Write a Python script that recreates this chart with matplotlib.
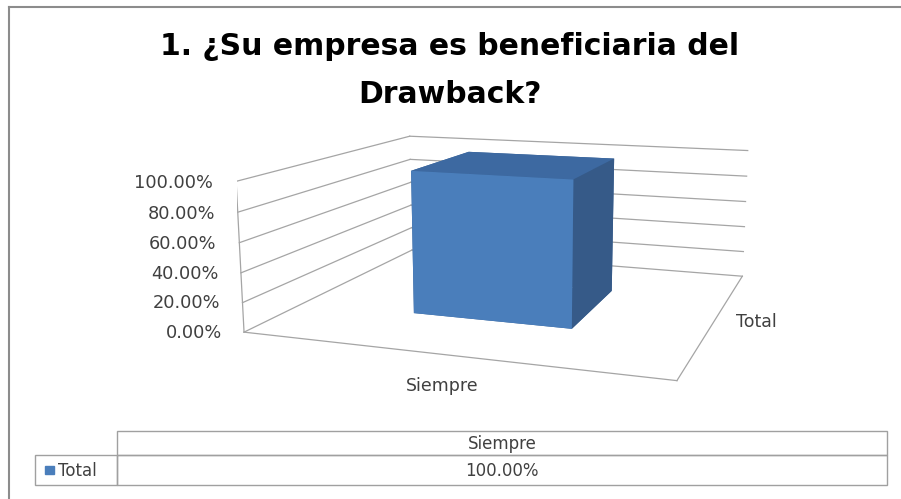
import matplotlib
matplotlib.use('Agg')
import matplotlib.pyplot as plt
from matplotlib.patches import Rectangle

categories = ['Siempre']
series = ['Total']
values = [1.00]
zticks = [0.0, 0.2, 0.4, 0.6, 0.8, 1.0]
ztick_labels = ['0.00%', '20.00%', '40.00%', '60.00%', '80.00%', '100.00%']
table_values = ['100.00%']
title_lines = ['1. ¿Su empresa es beneficiaria del', 'Drawback?']

W, H = 901, 499
fig = plt.figure(figsize=(W / 100, H / 100), dpi=100)

# 3D column chart, camera set to look like the Excel perspective
ax = fig.add_axes([0.2626, -0.0297, 0.6050, 1.0924], projection='3d', computed_zorder=False)
ax.set_xlim(0, 1)
ax.set_ylim(0, 1)
ax.set_zlim(0, 1)
ax.view_init(elev=11.73, azim=-70.60)
ax.set_proj_type('persp', focal_length=0.373)
ax.set_box_aspect((2.865, 2.622, 1))
ax.set_axis_off()
ax.patch.set_alpha(0)
for a in (ax.xaxis, ax.yaxis, ax.zaxis):
    a.label.set_visible(False)
    a.offsetText.set_visible(False)
ax.title.set_visible(False)

grid_c = '#A5A5A5'
for z in zticks:
    ax.plot([0, 0], [0, 1], [z, z], color=grid_c, lw=0.9, zorder=1)  # side wall
    ax.plot([0, 1], [1, 1], [z, z], color=grid_c, lw=0.9, zorder=1)  # back wall
ax.plot([0, 0], [0, 0], [0, 1], color=grid_c, lw=0.9, zorder=1)
ax.plot([0, 1], [0, 0], [0, 0], color=grid_c, lw=0.9, zorder=1)
ax.plot([1, 1], [0, 1], [0, 0], color=grid_c, lw=0.9, zorder=1)

bar_w = 0.4
bar_d = 0.4
# faces: bottom, top, front, back, left, right
face_cols = ['#3A6396', '#3D69A1', '#4A7EBB', '#3A6396', '#3A6396', '#365A88']
for i, v in enumerate(values):
    ax.bar3d((i + 0.5) / len(categories) - bar_w / 2, 0.5 - bar_d / 2, 0, bar_w, bar_d, v,
             color=face_cols, shade=False, edgecolor='none', zorder=3)

lab_c = '#404040'
for z, lab in zip(zticks, ztick_labels):
    ax.text(-0.06, 0, z - 0.02, lab, ha='right', va='center', fontsize=12.8, color=lab_c,
            family='DejaVu Sans')
for i, cat in enumerate(categories):
    ax.text((i + 0.55) / len(categories), -0.15, 0, cat, ha='center', va='top', fontsize=12.5,
            color=lab_c, family='DejaVu Sans')
ax.text(1.05, 0.5, 0, series[0], ha='left', va='center', fontsize=12.5, color=lab_c,
        family='DejaVu Sans')

# flat overlay in pixel coords for title, frame and data table
tax = fig.add_axes([0, 0, 1, 1], zorder=5)
tax.set_xlim(0, W)
tax.set_ylim(H, 0)
tax.set_axis_off()
tax.patch.set_alpha(0)
tax.title.set_visible(False)
tax.plot([9, W], [7, 7], color='#8C8C8C', lw=1.5)
tax.plot([9, 9], [7, H], color='#8C8C8C', lw=1.5)

for line, yb in zip(title_lines, [55, 103]):
    tax.text(450, yb, line, ha='center', va='baseline', fontsize=21.5, fontweight='bold',
             family='DejaVu Sans', color='#000000')

# data table under the chart
edge_c = '#A0A0A0'
tx0, tx1 = 117, 887
ty_head, ty_row, ty_end = 431, 455, 485
col_w = (tx1 - tx0) / len(categories)
for j, cat in enumerate(categories):
    cx = tx0 + j * col_w
    tax.add_patch(Rectangle((cx, ty_head), col_w, ty_row - ty_head, fill=False,
                            edgecolor=edge_c, lw=1))
    tax.text(cx + col_w / 2, (ty_head + ty_row) / 2 + 1, cat, ha='center', va='center',
             fontsize=12, color=lab_c, family='DejaVu Sans')
    tax.add_patch(Rectangle((cx, ty_row), col_w, ty_end - ty_row, fill=False,
                            edgecolor=edge_c, lw=1))
    tax.text(cx + col_w / 2, (ty_row + ty_end) / 2 + 1, table_values[j], ha='center',
             va='center', fontsize=12, color=lab_c, family='DejaVu Sans')
tax.add_patch(Rectangle((35, ty_row), tx0 - 35, ty_end - ty_row, fill=False,
                        edgecolor=edge_c, lw=1))
tax.add_patch(Rectangle((45, 466), 9, 8, color='#4A7EBB'))
tax.text(58, (ty_row + ty_end) / 2 + 1, series[0], ha='left', va='center', fontsize=12,
         color=lab_c, family='DejaVu Sans')

fig.savefig('out.png', dpi=100)
